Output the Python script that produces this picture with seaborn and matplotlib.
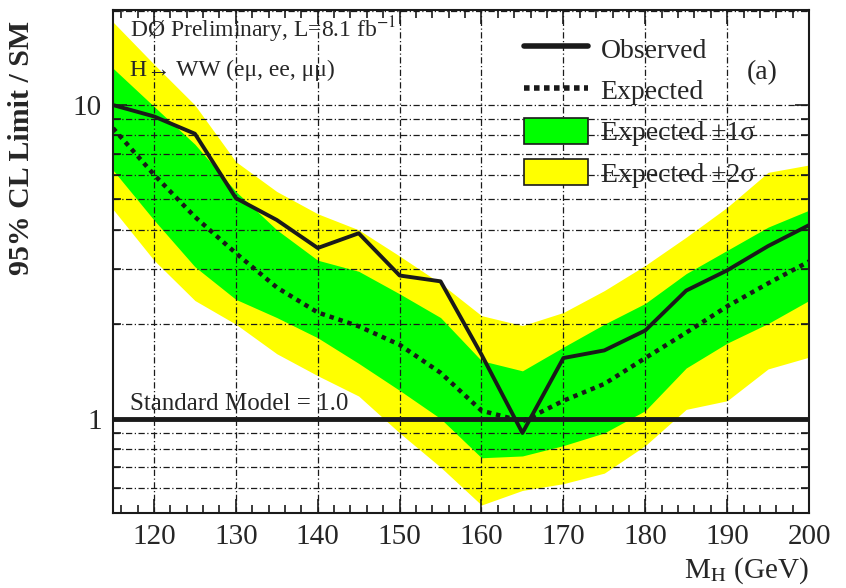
import numpy as np
import pandas as pd
import seaborn as sns
import matplotlib.pyplot as plt
from matplotlib.ticker import LogLocator, NullFormatter, FixedLocator, MultipleLocator, FuncFormatter
from matplotlib.patches import Patch
from matplotlib.lines import Line2D

# Higgs mass points (GeV)
mass = [115, 120, 125, 130, 135, 140, 145, 150, 155, 160, 165, 170, 175, 180, 185, 190, 195, 200]
# limits / SM
observed = [10.0, 9.2, 8.1, 5.05, 4.3, 3.5, 3.9, 2.86, 2.74, 1.6, 0.90, 1.56, 1.65, 1.91, 2.56, 2.97, 3.55, 4.14]
expected = [8.44, 6.0, 4.4, 3.37, 2.62, 2.18, 1.97, 1.72, 1.40, 1.06, 0.98, 1.14, 1.29, 1.56, 1.88, 2.28, 2.7, 3.17]
plus1 = [13.1, 9.9, 7.5, 5.3, 4.0, 3.2, 2.95, 2.5, 2.1, 1.53, 1.42, 1.69, 2.0, 2.33, 2.9, 3.44, 4.08, 4.62]
minus1 = [6.2, 4.3, 3.05, 2.4, 2.1, 1.81, 1.5, 1.23, 1.0, 0.75, 0.76, 0.82, 0.9, 1.06, 1.45, 1.74, 2.01, 2.38]
plus2 = [18.4, 13.5, 10.0, 6.6, 5.3, 4.5, 4.0, 3.3, 2.7, 2.13, 1.98, 2.18, 2.56, 3.08, 3.79, 4.72, 6.1, 6.44]
minus2 = [4.65, 3.2, 2.38, 2.0, 1.61, 1.37, 1.18, 0.9, 0.7, 0.53, 0.59, 0.62, 0.67, 0.82, 1.07, 1.14, 1.44, 1.57]

df = pd.DataFrame({"mass": mass, "observed": observed, "expected": expected,
                   "p1": plus1, "m1": minus1, "p2": plus2, "m2": minus2})

sns.set_theme(style="ticks")
plt.rcParams['font.family'] = ['Liberation Serif', 'DejaVu Serif']
plt.rcParams['mathtext.fontset'] = 'stix'

fig = plt.figure(figsize=(8.46, 5.88), dpi=100)
ax = fig.add_axes([0.1336, 0.1276, 0.8227, 0.8554])

# +-2 sigma and +-1 sigma bands
ax.fill_between(df["mass"], df["m2"], df["p2"], color='#ffff00', lw=0, zorder=1)
ax.fill_between(df["mass"], df["m1"], df["p1"], color='#00ff00', lw=0, zorder=1.1)

sns.lineplot(data=df, x="mass", y="expected", ax=ax, color='k', lw=3.2,
             linestyle=(0, (1, 1.1)), zorder=3)
sns.lineplot(data=df, x="mass", y="observed", ax=ax, color='k', lw=2.8, zorder=3)
ax.axhline(1.0, color='k', lw=3.5, zorder=3)

ax.set_yscale('log')
ax.set_xlim(115, 200)
ax.set_ylim(0.5, 20.1)

ax.xaxis.set_major_locator(MultipleLocator(10))
ax.xaxis.set_minor_locator(MultipleLocator(2))
ax.yaxis.set_major_locator(FixedLocator([1, 10]))
ax.yaxis.set_major_formatter(FuncFormatter(lambda v, p: f"{v:g}"))
ax.yaxis.set_minor_locator(LogLocator(base=10, subs=np.arange(2, 10)))
ax.yaxis.set_minor_formatter(NullFormatter())

ax.set_axisbelow(False)
grid_style = dict(color='0.1', lw=0.9, linestyle=(0, (5, 2, 1, 2)))
ax.grid(True, which='major', axis='x', **grid_style)
ax.grid(True, which='both', axis='y', **grid_style)

ax.tick_params(axis='both', which='both', direction='in', top=True, right=True,
               labelsize=21, width=1.2, color='k', pad=8)
ax.tick_params(axis='x', which='major', length=10)
ax.tick_params(axis='x', which='minor', length=6)
ax.tick_params(axis='y', which='major', length=10)
ax.tick_params(axis='y', which='minor', length=6)
for s in ax.spines.values():
    s.set_linewidth(1.5)
    s.set_color('k')

ax.set_ylabel("95% CL Limit / SM", fontsize=21.5, fontweight='bold')
ax.yaxis.set_label_coords(-0.112, 0.726)
ax.set_xlabel(r"M$_\mathrm{H}$ (GeV)", fontsize=21)
ax.xaxis.set_label_coords(1.0, -0.085)
ax.xaxis.label.set_horizontalalignment('right')

ax.text(0.025, 0.96, r"DØ Preliminary, L=8.1 fb$^{-1}$", transform=ax.transAxes,
        fontsize=17, va='center', ha='left')
ax.text(0.025, 0.88, "H\u2192 WW (eμ, ee, μμ)", transform=ax.transAxes,
        fontsize=17, va='center', ha='left')
ax.text(0.955, 0.875, "(a)", transform=ax.transAxes, fontsize=20, va='center', ha='right')
ax.text(0.025, 1.03, "Standard Model = 1.0", transform=ax.get_yaxis_transform(),
        fontsize=18, va='bottom', ha='left')

handles = [Line2D([], [], color='k', lw=4),
           Line2D([], [], color='k', lw=4, linestyle=(0, (1, 0.8))),
           Patch(facecolor='#00ff00', edgecolor='k', lw=1.2),
           Patch(facecolor='#ffff00', edgecolor='k', lw=1.2)]
labels = ["Observed", "Expected", "Expected \u00b11\u03c3", "Expected \u00b12\u03c3"]
ax.legend(handles, labels, loc='upper left', bbox_to_anchor=(0.555, 1.0), frameon=False,
          fontsize=20, handlelength=2.3, handleheight=1.1, labelspacing=0.45,
          handletextpad=0.45)

fig.savefig("out.png", dpi=100)
